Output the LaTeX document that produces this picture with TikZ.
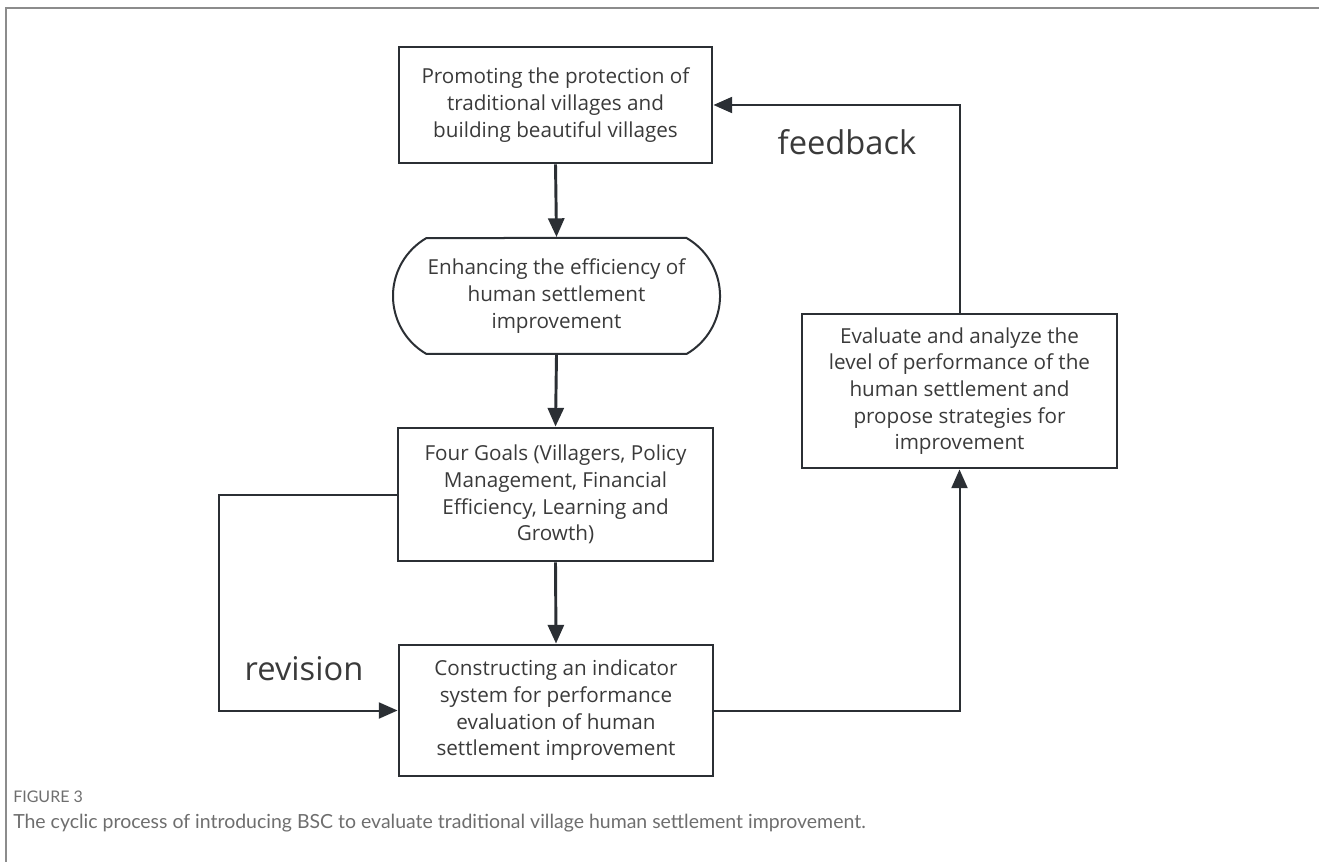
\documentclass[tikz,border=0pt]{standalone}
\usepackage{fontspec}
\setmainfont{Open Sans}
\newfontfamily\captionfont{Lato}
\usepackage{xcolor}
\usetikzlibrary{arrows.meta,shapes.misc}

\definecolor{boxline}{RGB}{43,47,52}
\definecolor{boxtext}{RGB}{58,58,58}
\definecolor{framegray}{RGB}{140,140,140}
\definecolor{capgray}{RGB}{110,110,110}

\begin{document}
\begin{tikzpicture}[x=0.75pt,y=0.75pt,yscale=-1,xscale=1,
	stagebox/.style={draw=boxline,line width=2.2pt,text=boxtext,align=center,inner sep=0pt,font=\fontsize{15.5}{20}\selectfont},
	goalround/.style={rounded rectangle,rounded rectangle arc length=120,draw=boxline,line width=1.5pt,text=boxtext,align=center,inner sep=0pt,font=\fontsize{15.5}{20}\selectfont},
	mainflow/.style={draw=boxline,line width=2.2pt,-{Triangle[length=14pt,width=12pt]}},
	loopflow/.style={draw=boxline,line width=1.5pt,-{Triangle[length=14pt,width=12pt]}},
	looplabel/.style={text=boxtext,font=\fontsize{24.5}{28}\selectfont}]
	\useasboundingbox (0,0) rectangle (1319,862);
	%frame of the figure
	\draw [framegray,line width=0.8pt] (1319,8) -- (6,8) -- (6,862);
	
	%boxes of the cycle (sizes in pt: pixels times 0.75)
	\node [stagebox,minimum width=234.75pt,minimum height=87pt] (promote) at (555.5,105) {Promoting the protection of\\traditional villages and\\building beautiful villages};
	\node [goalround,minimum width=245.25pt,minimum height=87pt] (enhance) at (556.5,296) {Enhancing the efficiency of\\human settlement\\improvement};
	\node [stagebox,minimum width=236.25pt,minimum height=99.75pt] (goals) at (555.5,494.5) {Four Goals (Villagers, Policy\\Management, Financial\\Efficiency, Learning and\\Growth)};
	\node [stagebox,minimum width=235.5pt,minimum height=98.25pt] (construct) at (556,710.5) {Constructing an indicator\\system for performance\\evaluation of human\\settlement improvement};
	\node [stagebox,minimum width=236.25pt,minimum height=115.5pt] (evaluate) at (959.5,391) {Evaluate and analyze the\\level of performance of the\\human settlement and\\propose strategies for\\improvement};
	
	%main flow
	\draw [mainflow] (promote.south) -- (enhance.north);
	\draw [mainflow] (enhance.south) -- (goals.north);
	\draw [mainflow] (goals.south) -- (construct.north);
	
	%revision loop
	\coordinate (revturn) at (219,494.5);
	\draw [loopflow] (goals.west) -- (revturn) |- (construct.west);
	\node [looplabel] (revlabel) at (304,669) {revision};
	
	%feedback loop
	\draw [loopflow] (construct.east) -| (evaluate.south);
	\draw [loopflow] (evaluate.north) |- (promote.east);
	\node [looplabel] (fblabel) at (847,142) {feedback};
	
	%caption
	\node [anchor=west,inner sep=0pt,text=capgray,font=\captionfont\fontsize{12}{14}\selectfont] (capnum) at (13,797) {FIGURE 3};
	\node [anchor=west,inner sep=0pt,text=capgray,font=\captionfont\fontsize{14.6}{17}\selectfont] (captext) at (13,823) {The cyclic process of introducing BSC to evaluate traditional village human settlement improvement.};
\end{tikzpicture}
\end{document}
